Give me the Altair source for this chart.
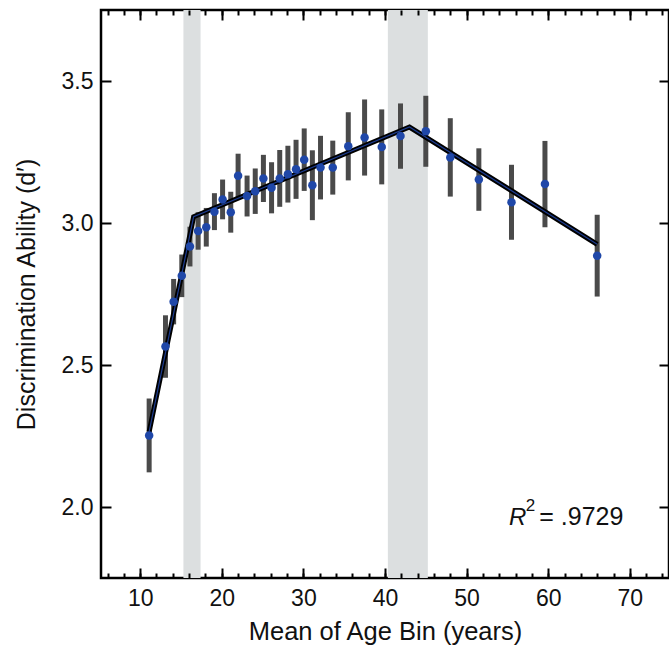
import altair as alt
import pandas as pd

# ---- data ----
age = [11.1, 13.1, 14.1, 15.1, 16.1, 17.1, 18.1, 19.1, 20.1, 21.1, 22.0,
       23.1, 24.1, 25.1, 26.1, 27.1, 28.1, 29.1, 30.1, 31.1, 32.1, 33.6,
       35.5, 37.5, 39.6, 41.9, 45.0, 48.0, 51.5, 55.5, 59.6, 66.0]
dprime = [2.252, 2.565, 2.723, 2.814, 2.917, 2.972, 2.985, 3.040, 3.083, 3.038,
          3.166, 3.095, 3.112, 3.157, 3.124, 3.157, 3.172, 3.189, 3.223, 3.133,
          3.195, 3.195, 3.270, 3.301, 3.268, 3.306, 3.323, 3.231, 3.153, 3.073,
          3.137, 2.885]
err = [0.13, 0.11, 0.08, 0.075, 0.07, 0.066, 0.068, 0.065, 0.07, 0.072,
       0.078, 0.072, 0.08, 0.083, 0.09, 0.10, 0.10, 0.104, 0.11, 0.123,
       0.112, 0.095, 0.12, 0.134, 0.132, 0.115, 0.125, 0.138, 0.11, 0.132,
       0.152, 0.144]

fit_age = [11.1, 16.55, 43.0, 66.0]
fit_d = [2.265, 3.022, 3.338, 2.925]

band_start = [15.3, 40.35]
band_end = [17.4, 45.25]

x_major = [10, 20, 30, 40, 50, 60, 70]
x_minor = list(range(6, 75, 2))
y_major = [2.0, 2.5, 3.0, 3.5]

ann_x = [55.2, 57.25, 58.9]
ann_y = [1.937, 1.985, 1.937]
ann_text = ["R", "2", "= .9729"]

# ---- tables ----
pts = pd.DataFrame({"age": age, "d": dprime,
                    "lo": [d - e for d, e in zip(dprime, err)],
                    "hi": [d + e for d, e in zip(dprime, err)]})
fit = pd.DataFrame({"age": fit_age, "d": fit_d})
bands = pd.DataFrame({"start": band_start, "end": band_end})
ann = pd.DataFrame({"x": ann_x, "y": ann_y, "t": ann_text})

FONT = "Liberation Sans Narrow, Arial Narrow, Liberation Sans, sans-serif"
xs = alt.Scale(domain=[5.2, 74.8], nice=False, zero=False)
ys = alt.Scale(domain=[1.75, 3.75], nice=False, zero=False)

common = dict(domain=False, grid=False, tickColor="black", tickWidth=2, zindex=1)

ax_bottom_major = alt.Axis(orient="bottom", values=x_major, tickSize=10, offset=-10,
                           labelPadding=9, labelFontSize=23, labelFont=FONT,
                           labelColor="#111", title="Mean of Age Bin (years)",
                           titleFont=FONT, titleFontSize=25.5, titleFontWeight="normal",
                           titleColor="#111", titlePadding=9, format="d", **common)
ax_bottom_minor = alt.Axis(orient="bottom", values=x_minor, tickSize=5, offset=-5,
                           labels=False, title=None, **common)
ax_top_major = alt.Axis(orient="top", values=x_major, tickSize=10, offset=-10,
                        labels=False, title=None, **common)
ax_top_minor = alt.Axis(orient="top", values=x_minor, tickSize=5, offset=-5,
                        labels=False, title=None, **common)
ax_left = alt.Axis(orient="left", values=y_major, tickSize=10, offset=-10,
                   labelPadding=8, labelFontSize=23, labelFont=FONT, labelColor="#111",
                   format=".1f", title="Discrimination Ability (d′)", titleFont=FONT,
                   titleFontSize=25, titleFontWeight="normal", titleColor="#111",
                   titlePadding=22, **common)
ax_right = alt.Axis(orient="right", values=y_major, tickSize=10, offset=-10,
                    labels=False, title=None, **common)

band_layer = alt.Chart(bands).mark_rect(color="#dcdfe0").encode(
    x=alt.X("start:Q", scale=xs, axis=ax_top_minor), x2="end:Q")

err_layer = alt.Chart(pts).mark_rule(color="#4a4a4a", strokeWidth=5).encode(
    x=alt.X("age:Q", scale=xs, axis=ax_top_major),
    y=alt.Y("lo:Q", scale=ys, axis=ax_right), y2="hi:Q")

line_black = alt.Chart(fit).mark_line(color="#000000", strokeWidth=5,
                                      strokeJoin="miter").encode(
    x=alt.X("age:Q", scale=xs, axis=ax_bottom_minor),
    y=alt.Y("d:Q", scale=ys, axis=None))

line_blue = alt.Chart(fit).mark_line(color="#1d3c8f", strokeWidth=1.2).encode(
    x=alt.X("age:Q", scale=xs, axis=None),
    y=alt.Y("d:Q", scale=ys, axis=None))

point_layer = alt.Chart(pts).mark_circle(color="#1f47a8", size=72, opacity=1).encode(
    x=alt.X("age:Q", scale=xs, axis=ax_bottom_major),
    y=alt.Y("d:Q", scale=ys, axis=ax_left))

ann_R = alt.Chart(ann.iloc[[0]]).mark_text(font=FONT, fontSize=24, fontStyle="italic",
                                           align="left", baseline="alphabetic",
                                           color="#111").encode(
    x=alt.X("x:Q", scale=xs, axis=None), y=alt.Y("y:Q", scale=ys, axis=None), text="t:N")
ann_2 = alt.Chart(ann.iloc[[1]]).mark_text(font=FONT, fontSize=17,
                                           align="left", baseline="alphabetic",
                                           color="#111").encode(
    x=alt.X("x:Q", scale=xs, axis=None), y=alt.Y("y:Q", scale=ys, axis=None), text="t:N")
ann_v = alt.Chart(ann.iloc[[2]]).mark_text(font=FONT, fontSize=25,
                                           align="left", baseline="alphabetic",
                                           color="#111").encode(
    x=alt.X("x:Q", scale=xs, axis=None), y=alt.Y("y:Q", scale=ys, axis=None), text="t:N")

chart = alt.layer(band_layer, err_layer, line_black, line_blue, point_layer,
                  ann_R, ann_2, ann_v).resolve_axis(x="independent", y="independent").properties(
    width=568, height=568,
    padding={"left": 101, "top": 10, "right": 0, "bottom": 79},
    autosize=alt.AutoSizeParams(type="none"),
    background="white",
).configure_view(stroke="black", strokeWidth=2.5)

chart.save("out.html", embed_options={"renderer": "svg", "actions": False})
